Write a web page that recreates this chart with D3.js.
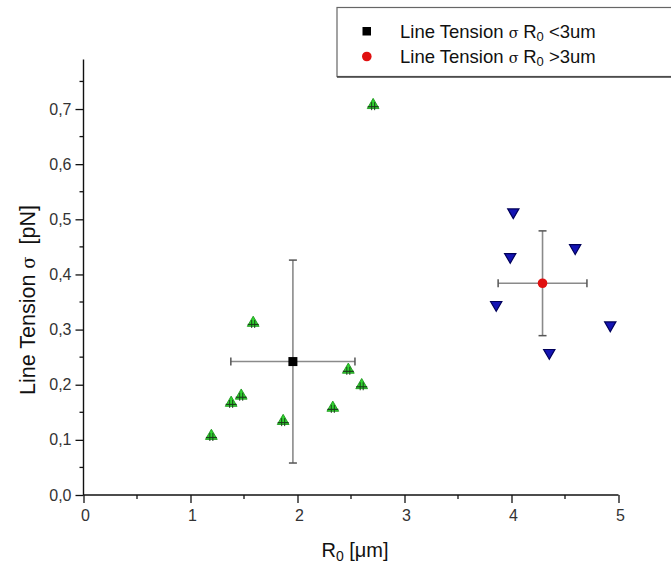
<!DOCTYPE html>
<html>
<head>
<meta charset="utf-8">
<script src="https://cdn.jsdelivr.net/npm/d3@7"></script>
<style>
  html, body { margin: 0; padding: 0; background: #fff; }
  svg { display: block; font-family: Arial, "Liberation Sans", sans-serif; }
</style>
</head>
<body>
<svg id="chart" width="671" height="570"></svg>
<script>
// Individual vesicles, R0 < 3 µm
const smallR0 = [1.195, 1.38, 1.474, 1.586, 1.866, 2.33, 2.475, 2.60, 2.707];
const smallSigma = [0.107, 0.167, 0.180, 0.312, 0.134, 0.158, 0.227, 0.199, 0.707];
// Individual vesicles, R0 > 3 µm
const largeR0 = [4.017, 3.988, 4.595, 3.857, 4.923, 4.353];
const largeSigma = [0.513, 0.432, 0.448, 0.345, 0.308, 0.258];
// Group means with standard deviations
const groupNames = ["Line Tension σ R0 <3um", "Line Tension σ R0 >3um"];
const groupMeanR0 = [1.957, 4.29];
const groupErrR0 = [0.58, 0.415];
const groupMeanSigma = [0.242, 0.384];
const groupErrSigma = [0.184, 0.095];
// Axis ticks
const xTicks = [0, 1, 2, 3, 4, 5];
const yTicks = [0, 0.1, 0.2, 0.3, 0.4, 0.5, 0.6, 0.7];

const svg = d3.select("#chart");
const x = d3.scaleLinear().domain([0, 5]).range([83.5, 618.5]);
const y = d3.scaleLinear().domain([0, 0.79]).range([495, 59.4]);

const fmt = v => d3.format(".1f")(v).replace(".", ",");

// Left axis
const yAxis = d3.axisLeft(y).tickValues(yTicks).tickFormat(fmt).tickSize(8).tickPadding(4);
const gy = svg.append("g").attr("transform", `translate(${x(0)},0)`).call(yAxis);
gy.select(".domain").attr("stroke", "#111").attr("stroke-width", 1.4).attr("d", `M0,${y(0)}V${y(0.79)}`);
gy.selectAll(".tick line").attr("stroke", "#111").attr("stroke-width", 1.3);
gy.selectAll(".tick text").attr("font-size", 16).attr("fill", "#333");
// minor y ticks
gy.selectAll("line.minor").data(d3.range(0.05, 0.8, 0.1)).enter().append("line")
  .attr("x1", -4).attr("x2", 0).attr("y1", d => y(d)).attr("y2", d => y(d))
  .attr("stroke", "#111").attr("stroke-width", 1.3);

// Bottom axis
const xAxis = d3.axisBottom(x).tickValues(xTicks).tickFormat(d3.format("d")).tickSize(8).tickPadding(7);
const gx = svg.append("g").attr("transform", `translate(0,${y(0)})`).call(xAxis);
gx.select(".domain").attr("stroke", "#111").attr("stroke-width", 1.4).attr("d", `M${x(0)},0H${x(5)}`);
gx.selectAll(".tick line").attr("stroke", "#111").attr("stroke-width", 1.3);
gx.selectAll(".tick text").attr("font-size", 16).attr("fill", "#333").attr("dx", 1.5);
gx.selectAll("line.minor").data(d3.range(0.5, 5, 1)).enter().append("line")
  .attr("x1", d => x(d)).attr("x2", d => x(d)).attr("y1", 0).attr("y2", 4)
  .attr("stroke", "#111").attr("stroke-width", 1.3);

// Axis titles
const yTitle = svg.append("text")
  .attr("transform", `translate(35,300) rotate(-90)`)
  .attr("text-anchor", "middle").attr("font-size", 21.5).attr("fill", "#111");
yTitle.append("tspan").text("Line Tension\u00a0");
yTitle.append("tspan").attr("font-family", "'DejaVu Serif', serif").attr("font-size", 18).text("σ");
yTitle.append("tspan").text("\u00a0\u00a0[pN]");

const xTitle = svg.append("text")
  .attr("x", 355).attr("y", 557).attr("text-anchor", "middle").attr("font-size", 20).attr("fill", "#111");
xTitle.append("tspan").text("R");
xTitle.append("tspan").attr("font-size", 14).attr("dy", 4).text("0");
xTitle.append("tspan").attr("dy", -4).text(" [μm]");

// Error bars for the group means
const errG = svg.append("g");
const cap = 4;
groupMeanR0.forEach((mx, i) => {
  const my = groupMeanSigma[i];
  const ex = groupErrR0[i], ey = groupErrSigma[i];
  errG.append("line").attr("x1", x(mx)).attr("x2", x(mx)).attr("y1", y(my - ey)).attr("y2", y(my + ey))
    .attr("stroke", "#8a8a8a").attr("stroke-width", 1.6);
  errG.append("line").attr("x1", x(mx - ex)).attr("x2", x(mx + ex)).attr("y1", y(my)).attr("y2", y(my))
    .attr("stroke", "#8a8a8a").attr("stroke-width", 1.6);
  [my - ey, my + ey].forEach(v => errG.append("line")
    .attr("x1", x(mx) - cap).attr("x2", x(mx) + cap).attr("y1", y(v)).attr("y2", y(v))
    .attr("stroke", "#555").attr("stroke-width", 1.5));
  [mx - ex, mx + ex].forEach(v => errG.append("line")
    .attr("x1", x(v)).attr("x2", x(v)).attr("y1", y(my) - cap).attr("y2", y(my) + cap)
    .attr("stroke", "#555").attr("stroke-width", 1.5));
});

// Small-vesicle points: green up triangles with a dark cross
const triUp = d3.symbol().type(d3.symbolTriangle).size(60);
const gSmall = svg.append("g");
smallR0.forEach((r, i) => {
  const g = gSmall.append("g").attr("transform", `translate(${x(r)},${y(smallSigma[i])})`);
  g.append("path").attr("d", triUp()).attr("fill", "#2fd42f").attr("stroke", "#1f9a1f").attr("stroke-width", 0.9);
  g.append("line").attr("x1", -5.5).attr("x2", 5.5).attr("y1", 1.5).attr("y2", 1.5).attr("stroke", "#1c401c").attr("stroke-width", 1.2);
  g.append("line").attr("x1", -1.5).attr("x2", -1.5).attr("y1", -3).attr("y2", 5).attr("stroke", "#1c401c").attr("stroke-width", 1);
  g.append("line").attr("x1", 1.5).attr("x2", 1.5).attr("y1", -3).attr("y2", 5).attr("stroke", "#1c401c").attr("stroke-width", 1);
});

// Large-vesicle points: blue down triangles
const triDown = d3.symbol().type(d3.symbolTriangle).size(55);
svg.append("g").selectAll("path").data(largeR0).enter().append("path")
  .attr("d", triDown())
  .attr("transform", (d, i) => `translate(${x(d)},${y(largeSigma[i])}) rotate(180)`)
  .attr("fill", "#1414b4").attr("stroke", "#00005a").attr("stroke-width", 1.2);

// Group mean markers
svg.append("rect").attr("x", x(groupMeanR0[0]) - 4.5).attr("y", y(groupMeanSigma[0]) - 4.5)
  .attr("width", 9).attr("height", 9).attr("fill", "#000");
svg.append("circle").attr("cx", x(groupMeanR0[1])).attr("cy", y(groupMeanSigma[1])).attr("r", 4.8)
  .attr("fill", "#e01010");

// Legend
const leg = svg.append("g");
leg.append("rect").attr("x", 337).attr("y", 7.5).attr("width", 340).attr("height", 69)
  .attr("fill", "#fff").attr("stroke", "#666").attr("stroke-width", 1.2);
leg.append("line").attr("x1", 337).attr("x2", 671).attr("y1", 77).attr("y2", 77).attr("stroke", "#444").attr("stroke-width", 1.6);
leg.append("rect").attr("x", 362.5).attr("y", 27).attr("width", 8.5).attr("height", 8.5).attr("fill", "#000");
leg.append("circle").attr("cx", 366.8).attr("cy", 56.5).attr("r", 4.8).attr("fill", "#e01010");
groupNames.forEach((name, i) => {
  const t = leg.append("text").attr("x", 400).attr("y", 38 + i * 25).attr("font-size", 18.5).attr("fill", "#111");
  const parts = name.split(/(σ|R0)/);
  parts.forEach(p => {
    if (p === "σ") {
      t.append("tspan").attr("font-family", "'DejaVu Serif', serif").attr("font-size", 14.5).text("σ ");
    } else if (p === "R0") {
      t.append("tspan").text("R");
      t.append("tspan").attr("font-size", 13).attr("dy", 3).text("0");
      t.append("tspan").attr("dy", -3).text(" ");
    } else if (p.length) {
      t.append("tspan").text(p.replace(/^ /, ""));
    }
  });
});
</script>
</body>
</html>
